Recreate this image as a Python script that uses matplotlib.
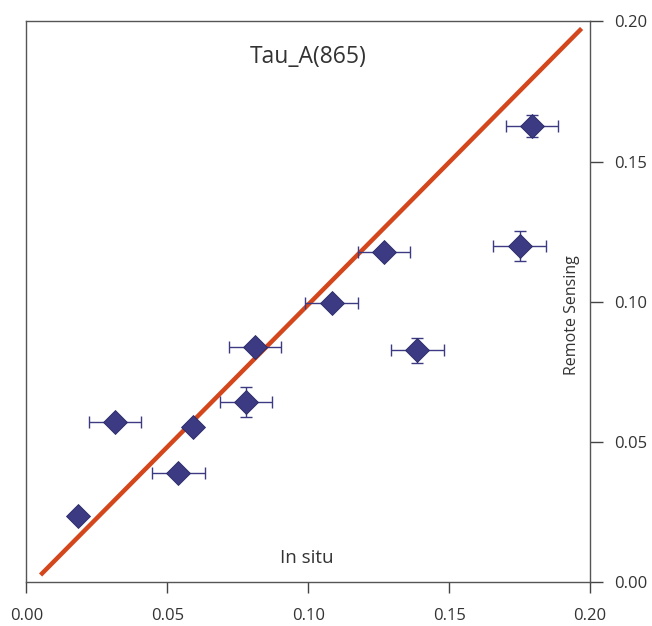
import matplotlib
matplotlib.use("Agg")
import matplotlib.pyplot as plt

# Data
in_situ = [0.0182, 0.0314, 0.0539, 0.0592, 0.0778, 0.0811, 0.1083, 0.1269, 0.1387, 0.1750, 0.1793]
remote = [0.0236, 0.0572, 0.0390, 0.0552, 0.0643, 0.0840, 0.0997, 0.1179, 0.0826, 0.1199, 0.1627]
x_err = [0.0, 0.0093, 0.0093, 0.0, 0.0092, 0.0093, 0.0093, 0.0093, 0.0093, 0.0093, 0.0093]
y_err = [0.0, 0.0, 0.0, 0.0, 0.0054, 0.0, 0.0, 0.0, 0.0044, 0.0055, 0.0040]
line_x = [0.005, 0.197]
line_y = [0.0025, 0.1975]
ticks = [0.00, 0.05, 0.10, 0.15, 0.20]
tick_labels = ["0.00", "0.05", "0.10", "0.15", "0.20"]

plt.rcParams['font.family'] = ['Open Sans', 'DejaVu Sans']

fig = plt.figure(figsize=(6.52, 6.26), dpi=100)
ax = fig.add_axes([0.0406, 0.0703, 0.905 - 0.0406, 0.9657 - 0.0703])

navy = '#3b3a82'
ax.plot(line_x, line_y, color='#d4461c', lw=3.2, solid_capstyle='butt', zorder=2)

ax.errorbar(in_situ, remote, xerr=x_err, yerr=y_err, fmt='none',
            ecolor=navy, elinewidth=1.0, capsize=4, capthick=1.0, zorder=3)
ax.plot(in_situ, remote, linestyle='none', marker='D', markersize=12.5,
        markerfacecolor=navy, markeredgecolor='#2a2a66', markeredgewidth=0.6, zorder=4)

ax.set_xlim(0, 0.2)
ax.set_ylim(0, 0.2)
ax.set_xticks(ticks)
ax.set_xticklabels(tick_labels)
ax.set_yticks(ticks)
ax.set_yticklabels(tick_labels)
ax.yaxis.tick_right()
ax.tick_params(axis='x', direction='out', length=8, width=1, colors='#444444',
               labelsize=12, labelcolor='#333333', pad=11)
ax.tick_params(axis='y', direction='out', length=9, width=1, colors='#444444',
               labelsize=12, labelcolor='#333333', pad=8, left=False, right=True)
for s in ax.spines.values():
    s.set_color('#555555')
    s.set_linewidth(1.0)

ax.text(0.1, 0.1875, "Tau_A(865)", ha='center', va='center', fontsize=16.5, color='#333333')
ax.text(0.0993, 0.0086, "In situ", ha='center', va='center', fontsize=13.5, color='#333333')
ax.text(0.1937, 0.0953, "Remote Sensing", ha='center', va='center', rotation=90,
        fontsize=11.5, color='#333333')

fig.savefig("out.png", dpi=100)
